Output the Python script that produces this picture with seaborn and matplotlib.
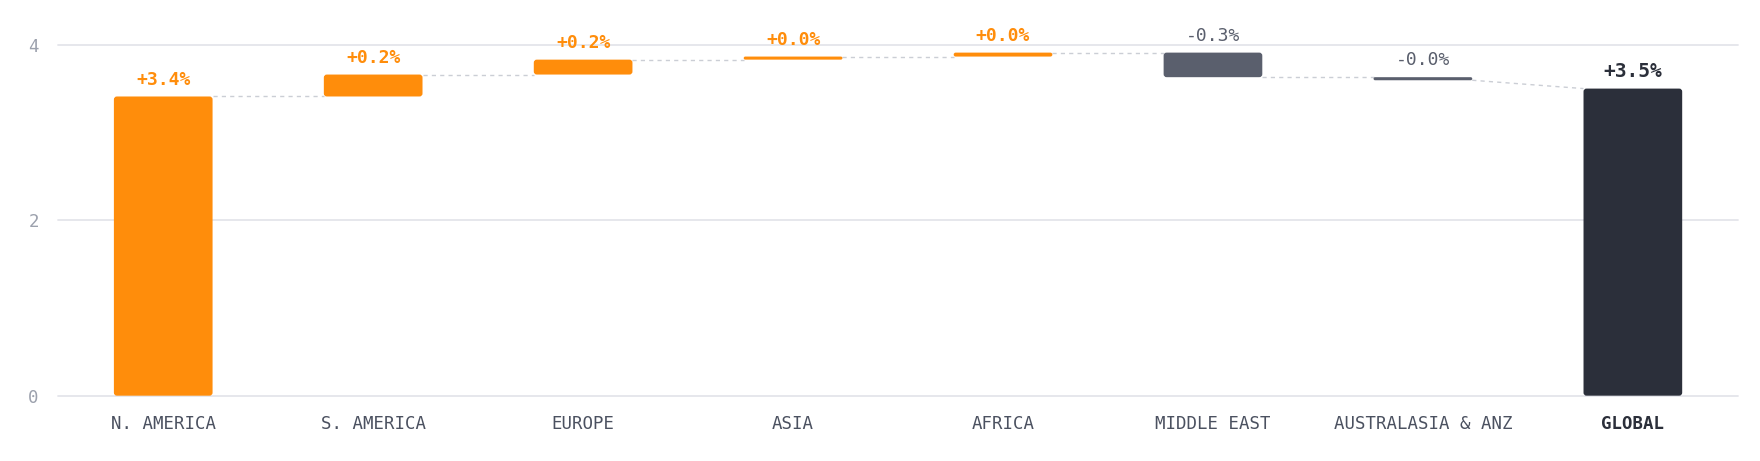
import numpy as np
import pandas as pd
import matplotlib
matplotlib.use('Agg')
import matplotlib.pyplot as plt
from matplotlib.patches import FancyBboxPatch
import seaborn as sns

# Regional contributions to global growth (percentage points)
regions = ['N. AMERICA', 'S. AMERICA', 'EUROPE', 'ASIA', 'AFRICA',
           'MIDDLE EAST', 'AUSTRALASIA & ANZ', 'GLOBAL']
changes = [3.41, 0.25, 0.17, 0.035, 0.045, -0.28, -0.035]
global_total = 3.50
y_ticks = [0, 2, 4]

ORANGE = '#FF8D0B'
GREY = '#5A5F6D'
DARK = '#2B2F3A'

sns.set_style('white')
plt.rcParams['font.family'] = ['DejaVu Sans Mono', 'DejaVu Sans']


def build_frame():
    """Floating bar bottoms/heights for the waterfall."""
    ends = np.cumsum(changes)
    starts = ends - np.array(changes)
    bottoms = list(np.minimum(starts, ends)) + [0.0]
    heights = list(np.abs(changes)) + [global_total]
    kinds = ['pos' if c >= 0 else 'neg' for c in changes] + ['total']
    values = list(changes) + [global_total]
    return pd.DataFrame({'region': regions, 'bottom': bottoms, 'height': heights,
                         'kind': kinds, 'value': values}), ends


df, ends = build_frame()
colors = {'pos': ORANGE, 'neg': GREY, 'total': DARK}
bar_w = 0.47

fig = plt.figure(figsize=(17.6, 4.61), dpi=100)
ax = fig.add_axes([0.0331, 0.1417, 0.9543, 0.7613])

sns.barplot(data=df, x='region', y='height', bottom=df['bottom'].values,
            width=bar_w, color=ORANGE, ax=ax, zorder=3)

# swap the plain rectangles for slightly rounded ones
asp = (4 / 351) / (1 / 210)
for p, kind in zip(list(ax.patches), df['kind']):
    x, y, w, h = p.get_x(), p.get_y(), p.get_width(), p.get_height()
    p.remove()
    r = min(0.0143, h / asp / 2)
    ax.add_patch(FancyBboxPatch((x, y), w, h, boxstyle=f'round,pad=0,rounding_size={r}',
                                mutation_aspect=asp, facecolor=colors[kind],
                                edgecolor='none', zorder=3))

# dashed connectors between bars
for i in range(len(changes)):
    y0 = ends[i]
    y1 = ends[i] if i + 1 < len(changes) else global_total
    ax.plot([i + bar_w / 2, i + 1 - bar_w / 2], [y0, y1], ls=(0, (3, 3)),
            color='#CBCED5', lw=1, zorder=2)

# value labels
for i, row in df.iterrows():
    top = row['bottom'] + row['height']
    if row['kind'] == 'pos':
        c, wt, fs = ORANGE, 'bold', 13
    elif row['kind'] == 'neg':
        c, wt, fs = GREY, 'normal', 13
    else:
        c, wt, fs = DARK, 'bold', 14
    ax.annotate(f"{row['value']:+.1f}%", (i, top), xytext=(0, 8.5),
                textcoords='offset points', ha='center', va='baseline',
                color=c, fontweight=wt, fontsize=fs)

ax.set_xlim(-0.5, 7.5)
ax.set_ylim(0, 4)
ax.set_yticks(y_ticks)
ax.grid(axis='y', color='#E4E5EB', lw=1.3)
ax.set_axisbelow(True)
for gl in ax.get_ygridlines():
    gl.set_clip_on(False)
sns.despine(ax=ax, left=True, bottom=True)
ax.set_xlabel('')
ax.set_ylabel('')
ax.tick_params(axis='x', length=0, pad=14, labelsize=12.5, labelcolor='#4B5160')
ax.tick_params(axis='y', length=0, pad=14, labelsize=12.5, labelcolor='#9CA1AD')
glob = ax.get_xticklabels()[-1]
glob.set_fontweight('bold')
glob.set_color(DARK)

fig.savefig('out.png', dpi=100, facecolor='white')
